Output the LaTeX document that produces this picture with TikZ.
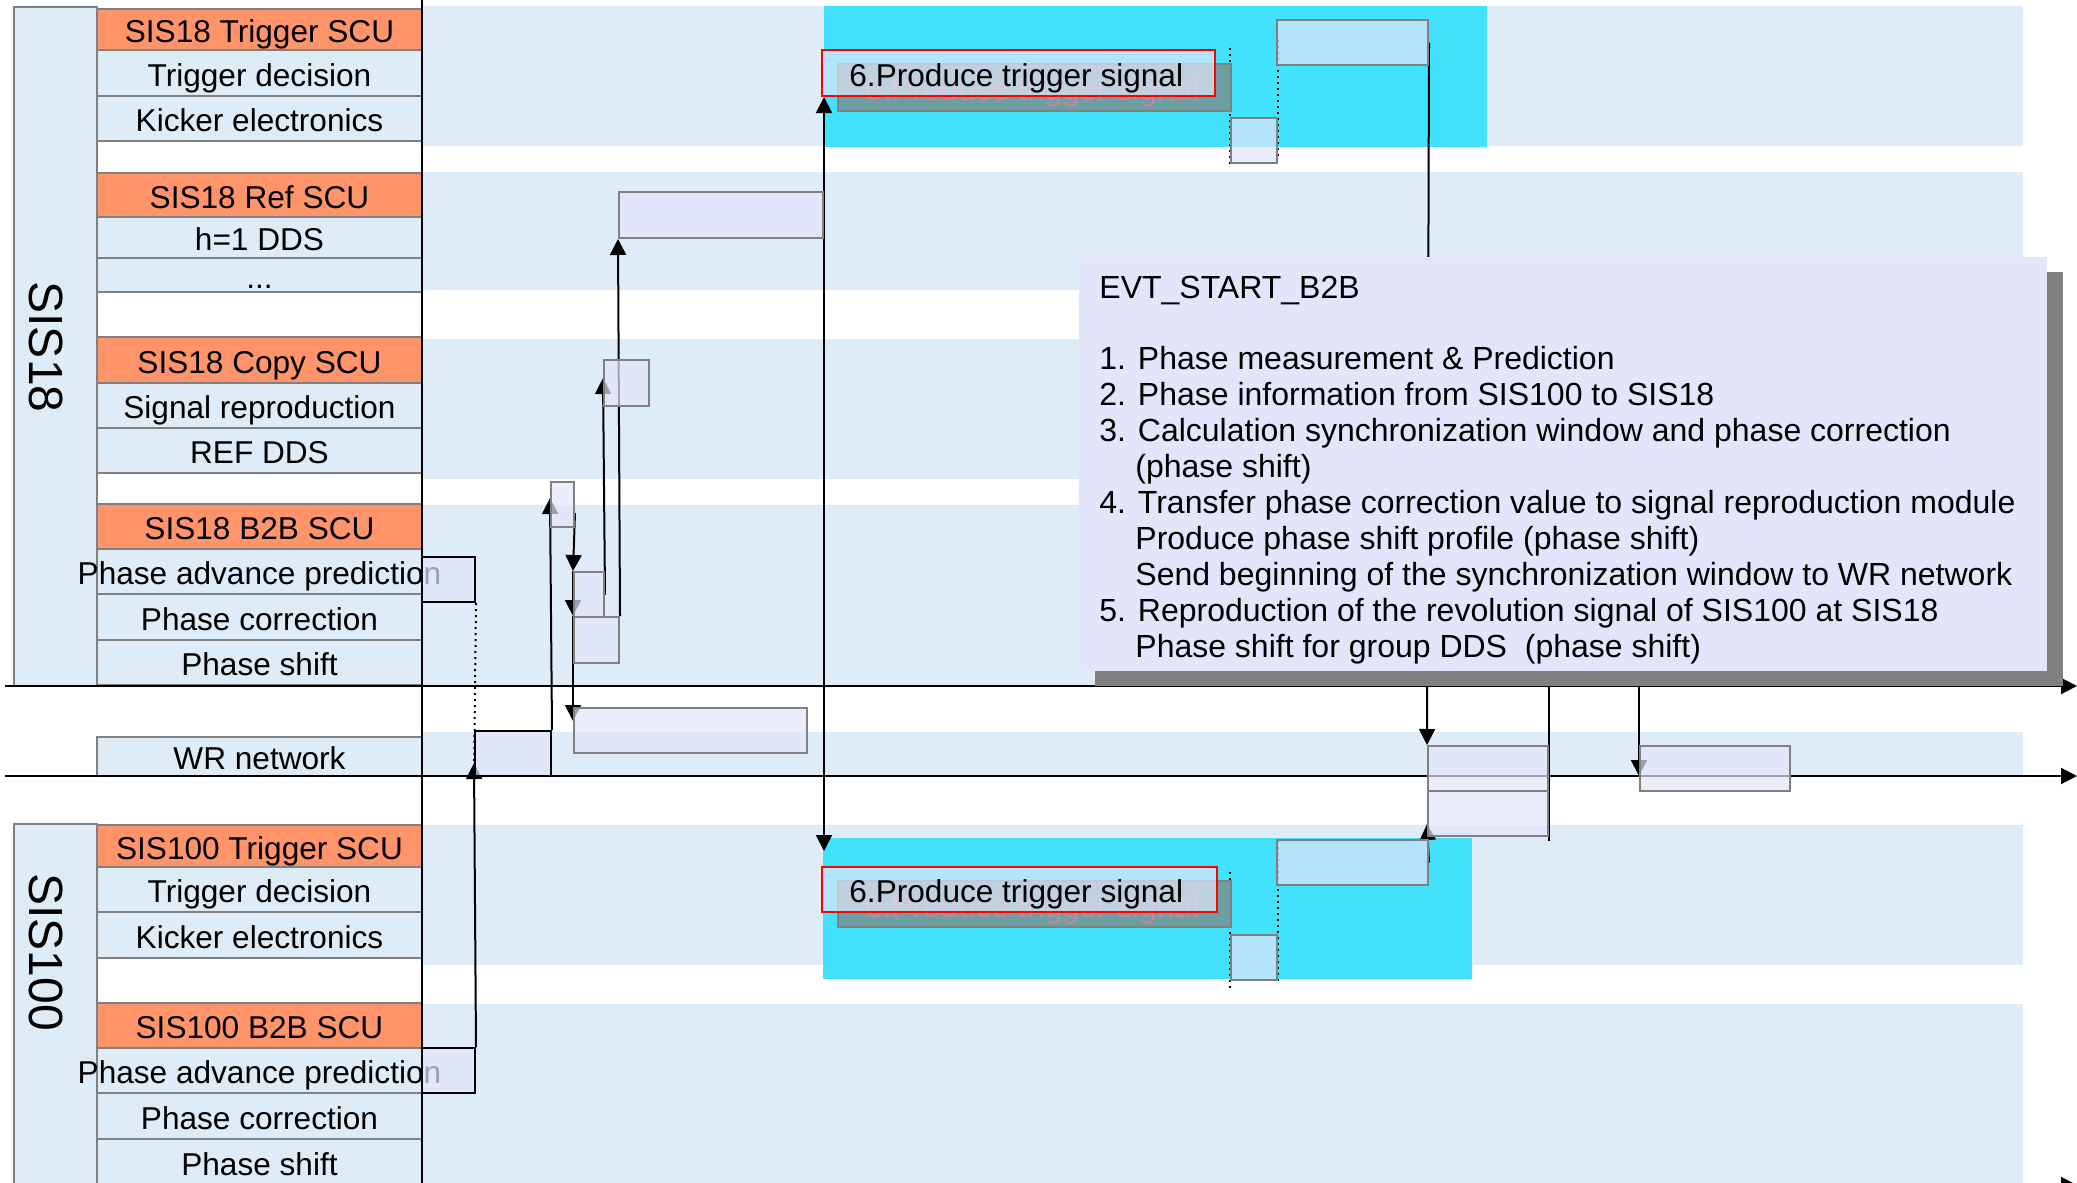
\documentclass[tikz,border=0pt]{standalone}
\usepackage{fontspec}
\setmainfont{Liberation Sans}
\usetikzlibrary{arrows.meta,calc,fit,shadows}
\pgfdeclarelayer{lanes}
\pgfdeclarelayer{wires}
\pgfsetlayers{lanes,wires,main}
\definecolor{laneblue}{RGB}{221,236,247}
\definecolor{scuorange}{RGB}{255,148,106}
\definecolor{edgegray}{RGB}{128,128,128}
\definecolor{kickcyan}{RGB}{66,225,252}
\definecolor{evtlav}{RGB}{227,230,250}
\definecolor{shadeteal}{RGB}{108,158,162}
\definecolor{ghostred}{RGB}{185,140,152}

\begin{document}
\begin{tikzpicture}[
  x=.5pt,y=-.5pt,
  every node/.style={font=\fontsize{15.8}{18}\selectfont,text=black},
  every label/.style={inner sep=0pt,text height=13pt,text depth=0pt},
  cell/.style={draw=edgegray,line width=1pt,inner sep=0pt},
  ringname/.style={rotate=-90,font=\fontsize{24}{28}\selectfont},
  evtbox/.style={draw=edgegray,line width=1pt,fill=evtlav,fill opacity=.7,inner sep=0pt},
  sendbox/.style={evtbox,draw=black},
  trigbox/.style={evtbox,draw=red},
  ghostbox/.style={draw=edgegray,line width=1pt,fill=shadeteal,inner sep=0pt},
  sig/.style={-{Triangle[length=8pt,width=8pt]},line width=1pt},
  hint/.style={dotted,line width=1pt},
  note/.style={anchor=base west,inner sep=0pt,font=\fontsize{16}{18}\selectfont}
]
\useasboundingbox (0,0) rectangle (2077,1183);

\begin{pgfonlayer}{lanes}
\fill[white] (0,0) rectangle (2077,1183);
% time lanes of the two rings and of the WR network
\foreach \ya/\yb in {6/146,172/290,339/479,505/685,732/776,825/965,1004/1183}
  \fill[laneblue] (422,\ya) rectangle (2023,\yb);
\fill[kickcyan] (824,6) rectangle (1487,147);
\fill[kickcyan] (823,838) rectangle (1472,979);

% ring columns on the left
\node[cell,fill=laneblue,fit={(14,7) (97,686)}] (ring18) {};
\node[cell,fill=laneblue,fit={(14,824) (97,1185)}] (ring100) {};
\node[ringname] (name18) at (46,347) {SIS18};
\node[ringname] (name100) at (46,952) {SIS100};

% SCUs and their tasks
\foreach \nm/\ya/\yb/\fc/\txt in {
  trg18/9/50/scuorange/SIS18 Trigger SCU,
  dec18/50/96/laneblue/Trigger decision,
  kick18/96/141/laneblue/Kicker electronics,
  ref18/173/217/scuorange/SIS18 Ref SCU,
  dds18/217/258/laneblue/h=1 DDS,
  copy18/337/383/scuorange/SIS18 Copy SCU,
  rep18/383/428/laneblue/Signal reproduction,
  rdds18/428/473/laneblue/REF DDS,
  b2b18/504/549/scuorange/SIS18 B2B SCU,
  adv18/549/594/laneblue/Phase advance prediction,
  corr18/594/640/laneblue/Phase correction,
  shift18/640/685/laneblue/Phase shift,
  wr/737/776/laneblue/WR network,
  trg100/825/867/scuorange/SIS100 Trigger SCU,
  dec100/867/912/laneblue/Trigger decision,
  kick100/912/958/laneblue/Kicker electronics,
  b2b100/1003/1048/scuorange/SIS100 B2B SCU,
  adv100/1048/1093/laneblue/Phase advance prediction,
  corr100/1093/1139/laneblue/Phase correction,
  shift100/1139/1185/laneblue/Phase shift}
  \node[cell,fill=\fc,fit={(97,\ya) (422,\yb)},label=center:{\txt}] (\nm) {};
\node[cell,fill=laneblue,fit={(97,258) (422,292)},label=center:{...}] (more18) {};

% time axes
\coordinate (ax1) at (5,686);
\coordinate (ax1end) at (2077,686);
\coordinate (ax2) at (5,776);
\coordinate (ax2end) at (2077,776);
\coordinate (ax3) at (5,1185);
\coordinate (ax3end) at (2077,1185);
\draw[sig] (ax1) -- (ax1end);
\draw[sig] (ax2) -- (ax2end);
\draw[sig] (ax3) -- (ax3end);
\coordinate (splittop) at (422,0);
\coordinate (splitbot) at (422,1183);
\draw[line width=1pt] (splittop) -- (splitbot);
\end{pgfonlayer}

% kicker windows
\node[ghostbox,fit={(838,64) (1231,111)},
  label={[anchor=west,xshift=14pt,text=ghostred]west:6.Produce trigger signal}] (ghost18) {};
\node[trigbox,fit={(822,50) (1215,96)},
  label={[anchor=west,xshift=14pt]west:6.Produce trigger signal}] (fire18) {};
\node[evtbox,fit={(1231,118) (1277,163)}] (gap18) {};
\node[evtbox,fit={(1277,20) (1428,65)}] (kick18a) {};
\node[ghostbox,fit={(838,881) (1231,927)},
  label={[anchor=west,xshift=14pt,text=ghostred]west:6.Produce trigger signal}] (ghost100) {};
\node[trigbox,fit={(822,867) (1217,912)},
  label={[anchor=west,xshift=14pt]west:6.Produce trigger signal}] (fire100) {};
\node[evtbox,fit={(1231,935) (1277,980)}] (gap100) {};
\node[evtbox,fit={(1277,840) (1428,885)}] (kick100a) {};

% B2B steps
\node[sendbox,fit={(422,557) (475,602)}] (pred18) {};
\node[sendbox,fit={(475,731) (551,776)}] (wrsend) {};
\node[sendbox,fit={(422,1048) (475,1093)}] (pred100) {};
\node[evtbox,fit={(551,482) (574,527)}] (pwin) {};
\node[evtbox,fit={(574,572) (604,617)}] (pcorr) {};
\node[evtbox,fit={(574,617) (619,663)}] (pshift) {};
\node[evtbox,fit={(574,708) (807,753)}] (wrwin) {};
\node[evtbox,fit={(604,360) (649,406)}] (prep) {};
\node[evtbox,fit={(619,192) (823,238)}] (pdds) {};
\node[evtbox,fit={(1428,746) (1548,791)}] (wrpair) {};
\node[evtbox,fit={(1428,791) (1548,836)}] (wrpairb) {};
\node[evtbox,fit={(1640,746) (1790,791)}] (wrlate) {};

\begin{pgfonlayer}{wires}
\draw[sig] (pred100.north east) -- ([yshift=7pt]wrsend.south west);
\draw[hint] (pred18.south east) -- (wrsend.south west);
\draw[sig] (wrsend.north east) -- ([yshift=15pt]pwin.south west);
\draw[sig] ([yshift=7.5pt]pwin.south east) -- (pcorr.north west);
\draw[sig] (pcorr.north west) -- (pshift.north west);
\draw[sig] (pshift.north west) -- ([yshift=-7pt]wrwin.north west);
\draw[sig] (pcorr.east) -- ([yshift=14.5pt]prep.south west);
\draw[sig] (pshift.north east) -- (pdds.south west);
\draw[sig] (pdds.east) -- (pdds.east |- fire18.south);
\draw[sig] (pdds.east) -- ([yshift=7.5pt]pdds.east |- fire100.north);
\draw[hint] (gap18.south west) -- ([yshift=60pt]gap18.south west);
\draw[hint] ([yshift=4pt]gap18.south east) -- ([yshift=64pt]gap18.south east);
\draw[hint] ([yshift=-3.5pt]gap100.south west) -- ([yshift=56.5pt]gap100.south west);
\draw[hint] (gap100.south east) -- ([yshift=70pt]gap100.south east);
\draw[sig] (kick18a.east) -- (wrpair.north west);
\draw[sig] (kick100a.east) -- ([yshift=6.5pt]wrpairb.south west);
\draw[line width=1pt] (wrpair.north east |- ax1) -- ([yshift=-2pt]wrpairb.south east);
\draw[sig] (wrlate.west |- ax1) -- (wrlate.west |- ax2);
\end{pgfonlayer}

% event note
\node[fill=evtlav,inner sep=0pt,fit={(1079,257) (2047,671)},
  drop shadow={shadow xshift=8pt,shadow yshift=-7.5pt,fill=edgegray,opacity=1}] (evt) {};
\foreach \xx/\yy/\txt [count=\k] in {
  1099/298/EVT\_START\_B2B,
  1099/369/1. Phase measurement \& Prediction,
  1099/405/2. Phase information from SIS100 to SIS18,
  1099/441/3. Calculation synchronization window and phase correction,
  1135/477/(phase shift),
  1099/513/4. Transfer phase correction value to signal reproduction module,
  1135/549/Produce phase shift profile (phase shift),
  1135/585/Send beginning of the synchronization window to WR network,
  1099/621/5. Reproduction of the revolution signal of SIS100 at SIS18,
  1135/657/Phase shift for group DDS\ \ (phase shift)}
  \node[note] (line\k) at (\xx,\yy) {\txt};
\end{tikzpicture}
\end{document}
